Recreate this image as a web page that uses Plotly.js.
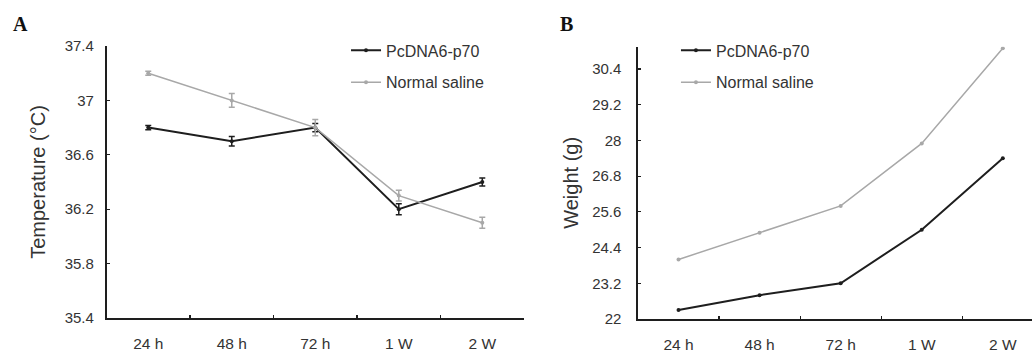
<!DOCTYPE html>
<html>
<head>
<meta charset="utf-8">
<script src="https://cdn.plot.ly/plotly-3.0.1.min.js"></script>
<style>html,body{margin:0;padding:0;background:#fff;}#chart{width:1032px;height:352px;}</style>
</head>
<body>
<div id="chart"></div>
<script>
// ---- data ----
const categories = ["24 h", "48 h", "72 h", "1 W", "2 W"];
const tempPcDNA = [36.8, 36.7, 36.8, 36.2, 36.4];
const tempPcDNAErr = [0.015, 0.035, 0.03, 0.04, 0.03];
const tempSaline = [37.2, 37.0, 36.8, 36.3, 36.1];
const tempSalineErr = [0.015, 0.05, 0.06, 0.04, 0.04];
const weightPcDNA = [22.3, 22.8, 23.2, 25.0, 27.4];
const weightSaline = [24.0, 24.9, 25.8, 27.9, 31.1];
const tempTicks = [35.4, 35.8, 36.2, 36.6, 37.0, 37.4];
const tempTickText = ["35.4", "35.8", "36.2", "36.6", "37", "37.4"];
const weightTicks = [22, 23.2, 24.4, 25.6, 26.8, 28, 29.2, 30.4];
const weightTickText = ["22", "23.2", "24.4", "25.6", "26.8", "28", "29.2", "30.4"];
const seriesNames = ["PcDNA6-p70", "Normal saline"];

const dark = "#1e1e1e";
const gray = "#a8a8a8";
const font = "Liberation Sans, Arial, sans-serif";

function errObj(arr, color) {
  return {type: "data", array: arr, visible: true, color: color, thickness: 1.5, width: 3};
}

const traces = [
  {x: categories, y: tempPcDNA, name: seriesNames[0], type: "scatter", mode: "lines+markers",
   line: {color: dark, width: 2}, marker: {color: dark, size: 4}, legendgroup: "a1",
   error_y: errObj(tempPcDNAErr, dark), xaxis: "x", yaxis: "y", legend: "legend"},
  {x: categories, y: tempSaline, name: seriesNames[1], type: "scatter", mode: "lines+markers",
   line: {color: gray, width: 1.5}, marker: {color: gray, size: 4}, legendgroup: "a2",
   error_y: errObj(tempSalineErr, gray), xaxis: "x", yaxis: "y", legend: "legend"},
  {x: categories, y: weightPcDNA, name: seriesNames[0], type: "scatter", mode: "lines+markers",
   line: {color: dark, width: 2}, marker: {color: dark, size: 4}, legendgroup: "b1",
   xaxis: "x2", yaxis: "y2", legend: "legend2"},
  {x: categories, y: weightSaline, name: seriesNames[1], type: "scatter", mode: "lines+markers",
   line: {color: gray, width: 1.5}, marker: {color: gray, size: 4}, legendgroup: "b2",
   xaxis: "x2", yaxis: "y2", legend: "legend2"}
];

const xCommon = {
  type: "category", tickson: "boundaries", ticks: "inside", ticklen: 3, tickwidth: 1.2, tickcolor: dark,
  showline: true, linecolor: dark, linewidth: 1.6, showgrid: false, zeroline: false,
  ticklabelstandoff: 11,
  tickfont: {family: font, size: 15.5, color: "#333"}, fixedrange: true
};
const yCommon = {
  ticks: "inside", ticklen: 3, tickwidth: 1.2, tickcolor: dark,
  showline: true, linecolor: dark, linewidth: 1.6, showgrid: false, zeroline: false,
  tickfont: {family: font, size: 15, color: "#333"}, tickmode: "array"
};
const legCommon = {
  font: {family: font, size: 16, color: "#333"}, bgcolor: "rgba(0,0,0,0)",
  itemwidth: 30, tracegroupgap: 8, xanchor: "left", yanchor: "top", traceorder: "grouped"
};

const layout = {
  width: 1032, height: 352,
  margin: {l: 0, r: 0, t: 0, b: 0},
  paper_bgcolor: "#fff", plot_bgcolor: "#fff",
  showlegend: true,
  xaxis: Object.assign({}, xCommon, {domain: [0.1032, 0.5078], range: [-0.5, 4.5], anchor: "y"}),
  yaxis: Object.assign({}, yCommon, {domain: [0.0966, 0.8693], range: [35.4, 37.4], anchor: "x",
    tickvals: tempTicks, ticktext: tempTickText, ticklabelstandoff: 8,
    title: {text: "Temperature (°C)", font: {family: font, size: 20, color: "#333"}, standoff: 13}}),
  xaxis2: Object.assign({}, xCommon, {domain: [0.6182, 1], range: [-0.5, 4.36], anchor: "y2"}),
  yaxis2: Object.assign({}, yCommon, {domain: [0.0938, 0.8673], range: [22, 31.15], anchor: "x2",
    tickvals: weightTicks, ticktext: weightTickText, ticklabelstandoff: 12,
    title: {text: "Weight (g)", font: {family: font, size: 20, color: "#333"}, standoff: 8}}),
  legend: Object.assign({}, legCommon, {x: 0.3353, y: 0.905}),
  legend2: Object.assign({}, legCommon, {x: 0.655, y: 0.905}),
  annotations: [
    {text: "<b>A</b>", xref: "paper", yref: "paper", x: 0.011, y: 0.97, xanchor: "left", yanchor: "top",
     showarrow: false, font: {family: "Liberation Serif, Times New Roman, serif", size: 20, color: "#111"}},
    {text: "<b>B</b>", xref: "paper", yref: "paper", x: 0.541, y: 0.97, xanchor: "left", yanchor: "top",
     showarrow: false, font: {family: "Liberation Serif, Times New Roman, serif", size: 20, color: "#111"}}
  ]
};

Plotly.newPlot("chart", traces, layout, {displayModeBar: false, staticPlot: true});
</script>
</body>
</html>
